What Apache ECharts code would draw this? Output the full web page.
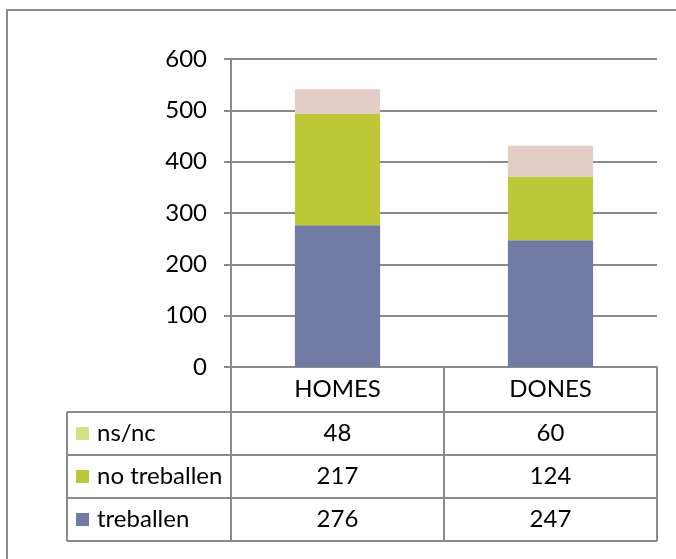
<!DOCTYPE html>
<html>
<head>
<meta charset="utf-8">
<script src="https://cdn.jsdelivr.net/npm/echarts@6/dist/echarts.min.js"></script>
<style>
  html, body { margin: 0; padding: 0; background: #fff; }
  #chart { width: 676px; height: 559px; }
</style>
</head>
<body>
<div id="chart"></div>
<script>
var categories = ["HOMES", "DONES"];
var treballen = [276, 247];
var noTreballen = [217, 124];
var nsnc = [48, 60];
var seriesNames = ["treballen", "no treballen", "ns/nc"];

var FONT = "Lato";
var FS = 24;
var LINE = "#8a8a8a";
var barColors = ["#717aa2", "#bcc838", "#e3cdc7"];
var markerColors = ["#717aa2", "#bcc838", "#d6df8a"]; // legend keys in the table

var chart = echarts.init(document.getElementById("chart"));

chart.setOption({
    animation: false,
    textStyle: { fontFamily: FONT },
    grid: { left: 231, right: 19, top: 59, bottom: 192 },
    xAxis: {
        type: "category",
        data: categories,
        axisLine: { lineStyle: { color: LINE, width: 2 } },
        axisTick: { show: false },
        axisLabel: { show: false },
    },
    yAxis: {
        type: "value",
        min: 0,
        max: 600,
        interval: 100,
        axisLine: { show: true, lineStyle: { color: LINE, width: 2 } },
        axisTick: { show: true, length: 7, lineStyle: { color: LINE, width: 2 } },
        axisLabel: { color: "#000", fontSize: FS, margin: 24, fontFamily: FONT },
        splitLine: { lineStyle: { color: LINE, width: 2 } },
    },
    series: [
        { name: seriesNames[0], type: "bar", stack: "t", data: treballen, barWidth: "40%", itemStyle: { color: barColors[0] } },
        { name: seriesNames[1], type: "bar", stack: "t", data: noTreballen, barWidth: "40%", itemStyle: { color: barColors[1] } },
        { name: seriesNames[2], type: "bar", stack: "t", data: nsnc, barWidth: "40%", itemStyle: { color: barColors[2] } },
    ],
});

// data table under the plot, laid out from the axis positions
var values = [treballen, noTreballen, nsnc];
var c0 = chart.convertToPixel({ xAxisIndex: 0 }, 0);
var c1 = chart.convertToPixel({ xAxisIndex: 0 }, 1);
var band = c1 - c0;
var left = c0 - band / 2;
var right = c1 + band / 2;
var yZero = chart.convertToPixel({ yAxisIndex: 0 }, 0);
var tableLeft = 67;
var headH = 45;
var rowH = 43;
var rowsTop = yZero + headH;
var bottom = rowsTop + rowH * 3;

function line(x1, y1, x2, y2) {
    return { type: "line", shape: { x1: x1, y1: y1, x2: x2, y2: y2 }, style: { stroke: LINE, lineWidth: 2 }, z: 10 };
}
function text(str, x, y, align) {
    return {
        type: "text",
        z: 11,
        style: {
            text: str, x: x, y: y, fill: "#000",
            fontSize: FS, fontFamily: FONT,
            align: align, textAlign: align,
            verticalAlign: "middle", textVerticalAlign: "middle",
        },
    };
}

var els = [];
els.push({ type: "rect", shape: { x: 7, y: 10, width: 720, height: 620 }, style: { fill: "none", stroke: LINE, lineWidth: 2 }, z: 1 });
els.push(line(left, yZero, left, bottom));
els.push(line(c0 + band / 2, yZero, c0 + band / 2, bottom));
els.push(line(right, yZero, right, bottom));
els.push(line(tableLeft, rowsTop, tableLeft, bottom));
for (var r = 0; r <= 3; r++) {
    els.push(line(tableLeft, rowsTop + r * rowH, right, rowsTop + r * rowH));
}
categories.forEach(function (c, i) {
    var cx = chart.convertToPixel({ xAxisIndex: 0 }, i);
    els.push(text(c, cx, yZero + headH / 2, "center"));
});
// rows from top: ns/nc, no treballen, treballen
for (var k = 0; k < 3; k++) {
    var s = 2 - k;
    var cy = rowsTop + k * rowH + rowH / 2;
    els.push({ type: "rect", shape: { x: 76, y: cy - 6.5, width: 13, height: 13 }, style: { fill: markerColors[s] }, z: 11 });
    els.push(text(seriesNames[s], 97, cy, "left"));
    categories.forEach(function (c, i) {
        var cx = chart.convertToPixel({ xAxisIndex: 0 }, i);
        els.push(text(String(values[s][i]), cx, cy, "center"));
    });
}
chart.setOption({ graphic: { elements: els } });
</script>
</body>
</html>
